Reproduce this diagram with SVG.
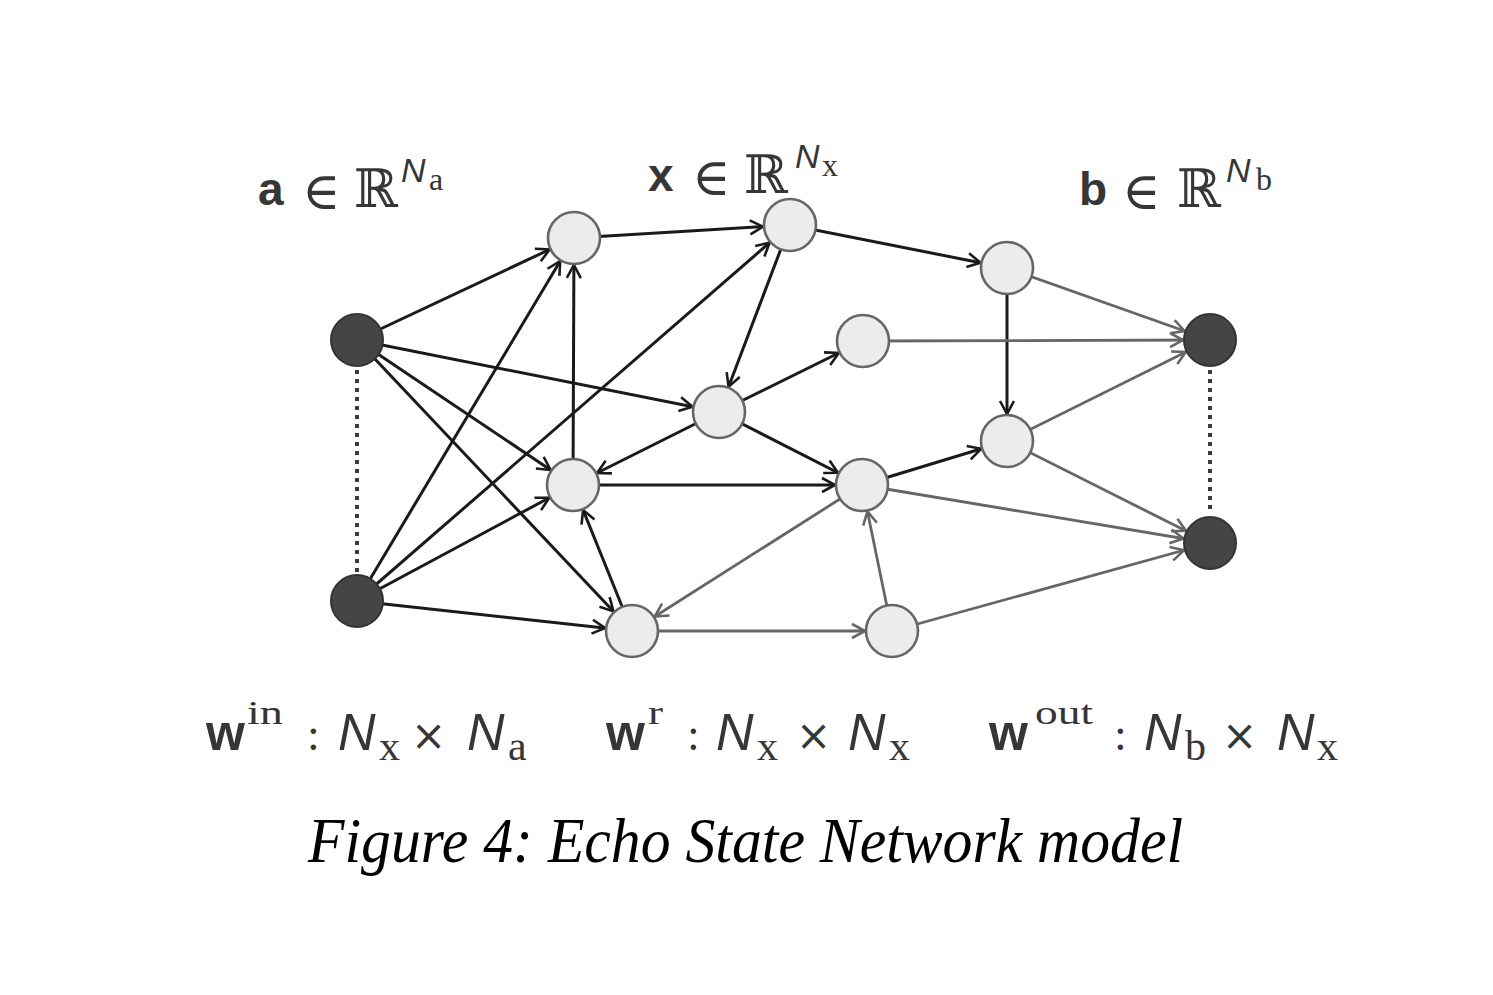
<svg xmlns="http://www.w3.org/2000/svg" width="1493" height="995" viewBox="0 0 1493 995">
<defs>
<style>
.e{fill:none;stroke:#1a1a1a;stroke-width:3;marker-end:url(#ad)}
.g{fill:none;stroke:#666;stroke-width:2.8;marker-end:url(#ag)}
.dot{fill:none;stroke:#3a3a3a;stroke-width:4;stroke-dasharray:4 5}
.ln{fill:#ececec;stroke:#666;stroke-width:2.6}
.dn{fill:#454545;stroke:#333;stroke-width:2}
.bs{font-family:"Liberation Sans",Arial,sans-serif;font-weight:bold;fill:#363636}
.is{font-family:"Liberation Sans",Arial,sans-serif;font-style:italic;fill:#363636}
.sr{font-family:"Liberation Serif","Times New Roman",serif;fill:#363636}
.ds{font-family:"DejaVu Serif","DejaVu Sans",serif;fill:#363636}
.el{font-family:"DejaVu Sans","DejaVu Serif",sans-serif;font-weight:200;fill:#363636}
.dv{font-family:"DejaVu Sans",sans-serif;fill:#363636}
.cap{font-family:"Liberation Serif","Times New Roman",serif;font-style:italic;fill:#000}
</style>
<marker id="ad" markerUnits="userSpaceOnUse" markerWidth="40" markerHeight="20" refX="27" refY="0" orient="auto" overflow="visible">
<path d="M-13,-7 L0,0 L-13,7" fill="none" stroke="#1a1a1a" stroke-width="2.6"/>
</marker>
<marker id="ag" markerUnits="userSpaceOnUse" markerWidth="40" markerHeight="20" refX="27" refY="0" orient="auto" overflow="visible">
<path d="M-13,-7 L0,0 L-13,7" fill="none" stroke="#666" stroke-width="2.6"/>
</marker>
</defs>
<rect width="1493" height="995" fill="#fff"/>

<g id="connectors">
<path class="e" d="M357,340 L574,238"/>
<path class="e" d="M357,340 L719,412"/>
<path class="e" d="M357,340 L573,485"/>
<path class="e" d="M357,340 L632,631"/>
<path class="e" d="M357,601 L574,238"/>
<path class="e" d="M357,601 L790,225"/>
<path class="e" d="M357,601 L573,485"/>
<path class="e" d="M357,601 L632,631"/>
<path class="e" d="M574,238 L790,225"/>
<path class="e" d="M573,485 L574,238"/>
<path class="e" d="M790,225 L719,412"/>
<path class="e" d="M790,225 L1007,268"/>
<path class="e" d="M719,412 L863,341"/>
<path class="e" d="M719,412 L573,485"/>
<path class="e" d="M719,412 L862,485"/>
<path class="e" d="M573,485 L862,485"/>
<path class="e" d="M632,631 L573,485"/>
<path class="e" d="M1007,268 L1007,441"/>
<path class="e" d="M862,485 L1007,441"/>
<path class="g" d="M862,485 L632,631"/>
<path class="g" d="M632,631 L892,631"/>
<path class="g" d="M892,631 L862,485"/>
<path class="g" d="M1007,268 L1210,340"/>
<path class="g" d="M863,341 L1210,340"/>
<path class="g" d="M1007,441 L1210,340"/>
<path class="g" d="M1007,441 L1210,543"/>
<path class="g" d="M862,485 L1210,543"/>
<path class="g" d="M892,631 L1210,543"/>
<path class="dot" d="M357,370 L357,572"/>
<path class="dot" d="M1210,370 L1210,514"/>
</g>

<g id="a1"><circle class="dn" cx="357" cy="340" r="26"/></g>
<g id="a2"><circle class="dn" cx="357" cy="601" r="26"/></g>
<g id="x1"><circle class="ln" cx="574" cy="238" r="26"/></g>
<g id="x2"><circle class="ln" cx="790" cy="225" r="26"/></g>
<g id="x3"><circle class="ln" cx="1007" cy="268" r="26"/></g>
<g id="x4"><circle class="ln" cx="863" cy="341" r="26"/></g>
<g id="x5"><circle class="ln" cx="719" cy="412" r="26"/></g>
<g id="x6"><circle class="ln" cx="573" cy="485" r="26"/></g>
<g id="x7"><circle class="ln" cx="862" cy="485" r="26"/></g>
<g id="x8"><circle class="ln" cx="1007" cy="441" r="26"/></g>
<g id="x9"><circle class="ln" cx="632" cy="631" r="26"/></g>
<g id="x10"><circle class="ln" cx="892" cy="631" r="26"/></g>
<g id="b1"><circle class="dn" cx="1210" cy="340" r="26"/></g>
<g id="b2"><circle class="dn" cx="1210" cy="543" r="26"/></g>

<g id="label-a">
<text class="bs" x="258" y="205" font-size="46">a</text>
<text class="el" x="302" y="209" font-size="52">∈</text>
<text class="ds" x="354" y="207" font-size="53">ℝ</text>
<text class="is" x="401" y="182" font-size="34">N</text>
<text class="sr" x="429" y="190" font-size="32">a</text>
</g>
<g id="label-x">
<text class="bs" x="648" y="191" font-size="46">x</text>
<text class="el" x="692" y="195" font-size="52">∈</text>
<text class="ds" x="744" y="193" font-size="53">ℝ</text>
<text class="is" x="795" y="168" font-size="34">N</text>
<text class="sr" x="822" y="176" font-size="32">x</text>
</g>
<g id="label-b">
<text class="bs" x="1079" y="205" font-size="46">b</text>
<text class="el" x="1122" y="209" font-size="52">∈</text>
<text class="ds" x="1177" y="207" font-size="53">ℝ</text>
<text class="is" x="1226" y="182" font-size="34">N</text>
<text class="sr" x="1256" y="190" font-size="32">b</text>
</g>

<g id="label-win">
<text class="bs" x="206" y="750" font-size="50">w</text>
<text class="sr" x="247" y="724" font-size="34" textLength="36" lengthAdjust="spacingAndGlyphs">in</text>
<text class="sr" x="307" y="750" font-size="46">:</text>
<text class="is" x="338" y="750" font-size="52">N</text>
<text class="sr" x="379" y="760" font-size="42">x</text>
<text class="dv" x="411" y="750" font-size="42">×</text>
<text class="is" x="467" y="750" font-size="52">N</text>
<text class="sr" x="508" y="760" font-size="42">a</text>
</g>
<g id="label-wr">
<text class="bs" x="606" y="750" font-size="50">w</text>
<text class="sr" x="648" y="724" font-size="34" textLength="15" lengthAdjust="spacingAndGlyphs">r</text>
<text class="sr" x="687" y="750" font-size="46">:</text>
<text class="is" x="716" y="750" font-size="52">N</text>
<text class="sr" x="757" y="760" font-size="42">x</text>
<text class="dv" x="796" y="750" font-size="42">×</text>
<text class="is" x="848" y="750" font-size="52">N</text>
<text class="sr" x="889" y="760" font-size="42">x</text>
</g>
<g id="label-wout">
<text class="bs" x="989" y="750" font-size="50">w</text>
<text class="sr" x="1035" y="724" font-size="34" textLength="58" lengthAdjust="spacingAndGlyphs">out</text>
<text class="sr" x="1114" y="750" font-size="46">:</text>
<text class="is" x="1144" y="750" font-size="52">N</text>
<text class="sr" x="1185" y="760" font-size="42">b</text>
<text class="dv" x="1222" y="750" font-size="42">×</text>
<text class="is" x="1277" y="750" font-size="52">N</text>
<text class="sr" x="1317" y="760" font-size="42">x</text>
</g>

<g id="caption">
<text class="cap" x="308" y="862" font-size="64" textLength="875" lengthAdjust="spacingAndGlyphs">Figure 4: Echo State Network model</text>
</g>
</svg>
